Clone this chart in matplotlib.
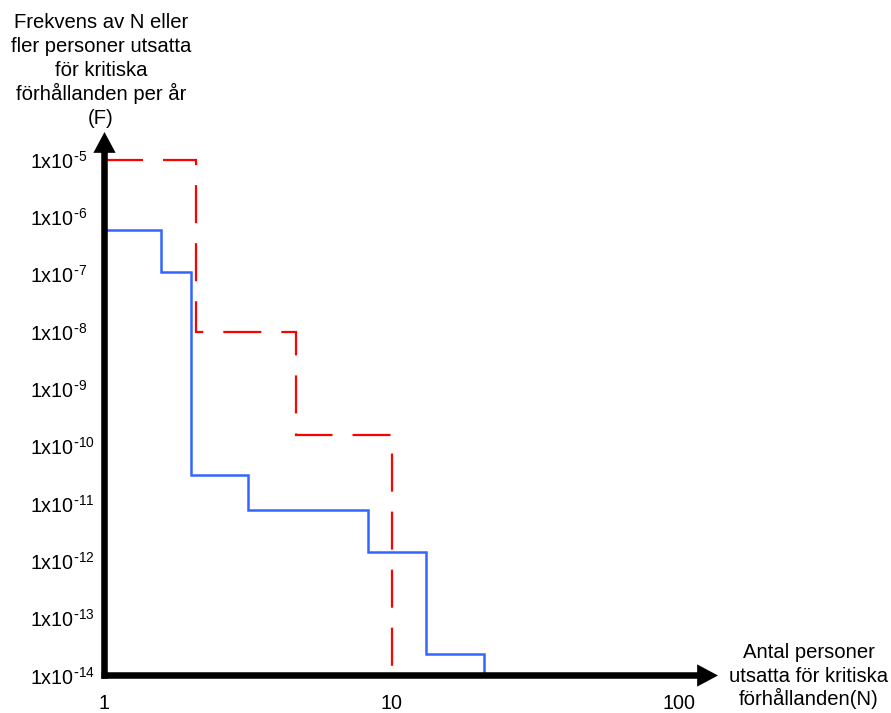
import numpy as np
import matplotlib
matplotlib.use("Agg")
import matplotlib.pyplot as plt
from matplotlib.ticker import NullLocator

plt.rcParams['font.family'] = ['Liberation Sans', 'DejaVu Sans']
plt.rcParams['mathtext.default'] = 'regular'
plt.rcParams['lines.scale_dashes'] = False

# trappstegskurvor: N-kanter och F-nivåer
n_blue = [1, 1.57, 2.0, 3.16, 8.3, 13.2, 21]
f_blue = [5.9e-7, 1.1e-7, 3.1e-11, 7.7e-12, 1.45e-12, 2.4e-14]
n_red = [1, 2.08, 4.66, 10]
f_red = [1e-5, 1e-8, 1.55e-10]

y_ticks = [1e-5, 1e-6, 1e-7, 1e-8, 1e-9, 1e-10, 1e-11, 1e-12, 1e-13, 1e-14]
y_labels = ['1x10$^{\\text{-}%d}$' % k for k in range(5, 15)]
x_ticks = [1, 10, 100]
x_labels = ['1', '10', '100']

ylabel_lines = ["Frekvens av N eller", "fler personer utsatta", "för kritiska",
                "förhållanden per år", "(F)"]
xlabel_lines = ["Antal personer", "utsatta för kritiska", "förhållanden(N)"]

W, H = 891, 713
fs = 14.6
fig = plt.figure(figsize=(W / 100, H / 100), dpi=100)
ax = fig.add_axes([104.5 / W, (H - 675.5) / H, (718 - 104.5) / W, (675.5 - 132) / H])
ax.set_xscale('log')
ax.set_yscale('log')
ax.set_xlim(1, 10 ** (613.5 / 287))
ax.set_ylim(1e-14, 10 ** (-5 + 27.5 / 57.33))

ybot = ax.get_ylim()[0]
ax.step(n_blue, f_blue + [ybot], where='post', color='#3366ff', lw=1.8,
        solid_joinstyle='miter')
ax.step(n_red, f_red + [ybot], where='post', color='#ff0000', lw=1.6,
        dashes=(27.4, 14.4), dash_joinstyle='miter', dash_capstyle='butt')

# axlar som pilar
arrow = dict(arrowstyle='simple,head_length=1.5,head_width=1.6,tail_width=0.47',
             mutation_scale=10, fc='k', ec='none', shrinkA=0, shrinkB=0)
ax.annotate('', xy=(0, 1), xytext=(0, -0.006), xycoords='axes fraction',
            textcoords='axes fraction', arrowprops=arrow, annotation_clip=False)
ax.annotate('', xy=(1, 0), xytext=(-0.005, 0), xycoords='axes fraction',
            textcoords='axes fraction', arrowprops=arrow, annotation_clip=False)

for s in ax.spines.values():
    s.set_visible(False)

ax.set_yticks(y_ticks, y_labels)
ax.set_xticks(x_ticks, x_labels)
ax.yaxis.set_minor_locator(NullLocator())
ax.xaxis.set_minor_locator(NullLocator())
ax.tick_params(axis='y', length=0, pad=53.5, labelsize=14.2)
ax.tick_params(axis='x', length=0, pad=13.5, labelsize=14.2)
for lab in ax.get_yticklabels():
    lab.set_ha('left')

# axeltitlar, en rad i taget (baslinjer i pixlar)
for i, line in enumerate(ylabel_lines):
    fig.text(101 / W, 1 - (28 + 24 * i) / H, line, ha='center', va='baseline', fontsize=fs)
for i, line in enumerate(xlabel_lines):
    fig.text(809 / W, 1 - (658 + 23.5 * i) / H, line, ha='center', va='baseline', fontsize=fs)

fig.savefig('out.png', dpi=100)
